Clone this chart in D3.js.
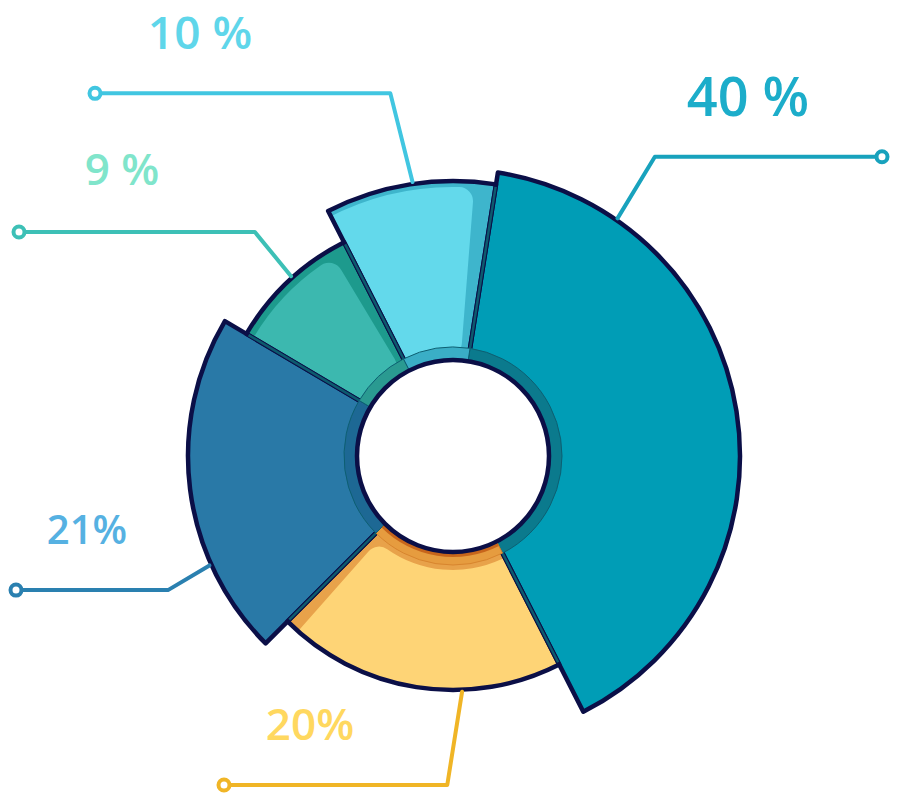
<!DOCTYPE html>
<html>
<head>
<meta charset="utf-8">
<script src="https://cdn.jsdelivr.net/npm/d3@7"></script>
<style>
  body { margin: 0; background: #fff; }
  svg { display: block; }
</style>
</head>
<body>
<svg width="900" height="800"></svg>
<script>
// data
const labels = ['40 %', '20%', '21%', '9 %', '10 %']
const values = [40, 20, 21, 9, 10]

// styles
const fills = ['#009db6', '#fed476', '#2979a7', '#3cb8af', '#63d9eb']
const shades = ['#009db6', '#e8a24a', '#2979a7', '#1d9a8d', '#3eb5cc']
const bands = ['#0b7a8d', '#e69c3f', '#1d6894', '#2a9a91', '#3aaec6']
const lineColors = ['#18a2bd', '#f0b526', '#2a80b0', '#3dc0b6', '#41c6e1']
const textColors = ['#1cadca', '#ffd85f', '#56b1e2', '#80e5cb', '#5fd6ea']
const outerR = [287, 234, 265, 240, 275]

// leader layout: start angle, elbow angle (degrees), elbow radius, end x; label centre
const leaders = [
  { a0: 34.7, a1: 34, r1: 361, x: 882, lx: 748, ly: 97, size: 54 },
  { a0: 177.8, a1: 181, r1: 329, x: 224, lx: 310, ly: 724, size: 44 },
  { a0: 245.8, a1: 244.8, r1: 315, x: 16, lx: 87, ly: 530, size: 40 },
  { a0: 318, a1: 318.5, r1: 299, x: 19, lx: 122, ly: 169, size: 44 },
  { a0: 351.6, a1: 350.2, r1: 368, x: 95, lx: 200, ly: 32, size: 46 }
]

const navy = '#0b0f47'
const cx = 453, cy = 456
const holeR = 96, bandR = 109
const rad = d => d * Math.PI / 180

const svg = d3.select('svg')
const defs = svg.append('defs')
const g = svg.append('g').attr('transform', `translate(${cx}, ${cy})`)

const pie = d3.pie().sort(null).value(d => d)
  .startAngle(rad(9)).endAngle(rad(369))
const slices = pie(values)

const arcFor = i => d3.arc().innerRadius(holeR).outerRadius(outerR[i])

// clip paths for shading
slices.forEach((d, i) => {
  defs.append('clipPath').attr('id', 'clip' + i)
    .append('path').attr('d', arcFor(i)(d))
})

// base segments
g.append('g').selectAll('path')
  .data(slices)
  .enter()
  .append('path')
  .attr('d', (d, i) => arcFor(i)(d))
  .attr('fill', (d, i) => shades[i])

// lighter inner area, leaves a darker edge on one side
const overlay = [
  null,
  { s: -4, e: -3.5, ri: 114, ro: 12 },
  null,
  { s: -4, e: -4, ri: 100, ro: -8 },
  { s: -4, e: -4.5, ri: 100, ro: -6 }
]
slices.forEach((d, i) => {
  const o = overlay[i]
  if (!o) return
  const a = d3.arc()
    .innerRadius(o.ri)
    .outerRadius(outerR[i] + o.ro)
    .startAngle(d.startAngle + rad(o.s))
    .endAngle(d.endAngle + rad(o.e))
    .cornerRadius(14)
  g.append('path')
    .attr('clip-path', `url(#clip${i})`)
    .attr('d', a())
    .attr('fill', fills[i])
})

// outlines
g.append('g').selectAll('path')
  .data(slices)
  .enter()
  .append('path')
  .attr('d', (d, i) => arcFor(i)(d))
  .attr('fill', 'none')
  .attr('stroke', navy)
  .attr('stroke-width', 4.5)
  .attr('stroke-linejoin', 'round')

// dividers between neighbours
slices.forEach((d, i) => {
  const j = (i + 1) % slices.length
  const r = Math.min(outerR[i], outerR[j])
  const p0 = d3.pointRadial(d.endAngle, holeR)
  const p1 = d3.pointRadial(d.endAngle, r - 2.5)
  g.append('line')
    .attr('x1', p0[0]).attr('y1', p0[1])
    .attr('x2', p1[0]).attr('y2', p1[1])
    .attr('stroke', '#0d5a6e')
    .attr('stroke-width', 2.5)
})

// darker ring round the hole
const band = d3.arc().innerRadius(holeR).outerRadius(bandR)
g.append('g').selectAll('path')
  .data(slices)
  .enter()
  .append('path')
  .attr('d', band)
  .attr('fill', (d, i) => bands[i])
  .attr('stroke', (d, i) => i === 1 ? '#d8852e' : '#0d5f72')
  .attr('stroke-width', 1)
g.append('path')
  .attr('d', d3.arc().innerRadius(holeR).outerRadius(holeR + 5)
    .startAngle(slices[1].startAngle).endAngle(slices[1].endAngle)())
  .attr('fill', '#c7651b')

// hole
g.append('circle')
  .attr('r', holeR)
  .attr('fill', '#fff')
  .attr('stroke', navy)
  .attr('stroke-width', 4.5)

// leader lines
const lines = svg.append('g')
leaders.forEach((l, i) => {
  const p0 = d3.pointRadial(rad(l.a0), outerR[i] + 2)
  const p1 = d3.pointRadial(rad(l.a1), l.r1)
  const pts = [
    [cx + p0[0], cy + p0[1]],
    [cx + p1[0], cy + p1[1]],
    [l.x > cx ? l.x - 6 : l.x + 6, cy + p1[1]]
  ]
  lines.append('path')
    .attr('d', d3.line()(pts))
    .attr('fill', 'none')
    .attr('stroke', lineColors[i])
    .attr('stroke-width', 4)
    .attr('stroke-linecap', 'round')
    .attr('stroke-linejoin', 'round')
  lines.append('circle')
    .attr('cx', l.x)
    .attr('cy', cy + p1[1])
    .attr('r', 5.5)
    .attr('fill', '#fff')
    .attr('stroke', lineColors[i])
    .attr('stroke-width', 4)
})

// labels
svg.append('g').selectAll('text')
  .data(labels)
  .enter()
  .append('text')
  .attr('x', (d, i) => leaders[i].lx)
  .attr('y', (d, i) => leaders[i].ly)
  .attr('dy', '0.36em')
  .attr('text-anchor', 'middle')
  .attr('font-family', '"Open Sans", sans-serif')
  .attr('font-weight', 600)
  .attr('font-size', (d, i) => leaders[i].size)
  .attr('fill', (d, i) => textColors[i])
  .text(d => d)
</script>
</body>
</html>
